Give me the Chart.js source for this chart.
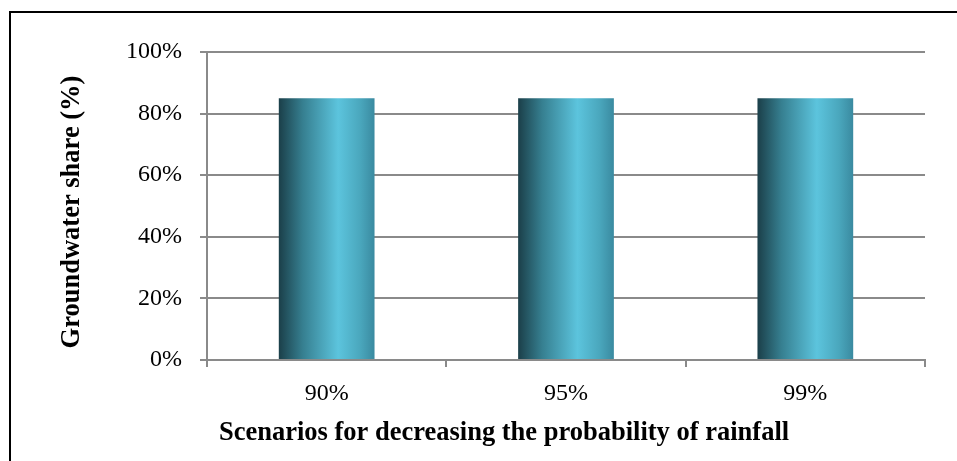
<!DOCTYPE html>
<html>
<head>
<meta charset="utf-8">
<script src="https://cdn.jsdelivr.net/npm/chart.js@4.4.1/dist/chart.umd.min.js"></script>
<style>
  html, body { margin: 0; padding: 0; background: #fff; }
  #wrap { position: relative; width: 957px; height: 461px; }
  #frame { position: absolute; left: 9px; top: 11px; right: -5px; bottom: -5px;
           border-left: 2px solid #000; border-top: 2px solid #000; }
  canvas { position: absolute; left: 0; top: 0; }
</style>
</head>
<body>
<div id="wrap">
  <div id="frame"></div>
  <canvas id="gwChart" width="957" height="461"></canvas>
</div>
<script>
// Escenarios y porcentaje de agua subterránea
const scenarios = ['90%', '95%', '99%'];
const groundwaterShare = [85, 85, 85];
const yTicks = [0, 20, 40, 60, 80, 100];

const xTitle = 'Scenarios for decreasing the probability of rainfall';
const yTitle = 'Groundwater share (%)';

const serif = "'Liberation Serif', 'Times New Roman', serif";
const gridGrey = '#8a8a8a';

// Degradado horizontal de cada barra (cada una con su propio objeto de opciones)
const barGradient = {
    id: 'barGradient',
    beforeDatasetsDraw(chart) {
        const ctx = chart.ctx;
        chart.getDatasetMeta(0).data.forEach(bar => {
            const x0 = bar.x - bar.width / 2;
            const x1 = bar.x + bar.width / 2;
            const g = ctx.createLinearGradient(x0, 0, x1, 0);
            g.addColorStop(0, '#1b3f49');
            g.addColorStop(0.25, '#367f90');
            g.addColorStop(0.62, '#5cc4dd');
            g.addColorStop(0.85, '#4aa7bd');
            g.addColorStop(1, '#3a8aa0');
            bar.options = Object.assign({}, bar.options, { backgroundColor: g });
        });
    }
};

// Títulos de los ejes
const axisTitles = {
    id: 'axisTitles',
    afterDraw(chart) {
        const ctx = chart.ctx;
        ctx.save();
        ctx.fillStyle = '#000';
        ctx.font = 'bold 26.5px ' + serif;
        ctx.textAlign = 'center';
        ctx.textBaseline = 'middle';
        ctx.fillText(xTitle, 504, 433);
        ctx.translate(72, 212);
        ctx.rotate(-Math.PI / 2);
        ctx.fillText(yTitle, 0, 0);
        ctx.restore();
    }
};

const gwChart = new Chart(document.getElementById('gwChart'), {
    type: 'bar',
    data: {
        labels: scenarios,
        datasets: [{
            data: groundwaterShare,
            backgroundColor: '#4aa7bd',
            borderWidth: 0,
            barPercentage: 0.4,
            categoryPercentage: 1
        }]
    },
    options: {
        responsive: false,
        animation: false,
        layout: {
            padding: { left: 0, top: 52, right: 32, bottom: 0 }
        },
        plugins: {
            legend: { display: false },
            tooltip: { enabled: false }
        },
        scales: {
            x: {
                grid: {
                    offset: true,
                    drawOnChartArea: false,
                    drawTicks: true,
                    tickLength: 7,
                    color: gridGrey,
                    lineWidth: 2
                },
                border: { color: gridGrey, width: 2 },
                ticks: {
                    color: '#000',
                    font: { family: serif, size: 24 },
                    padding: 12
                },
                afterFit: scale => { scale.height = 101; }
            },
            y: {
                min: 0,
                max: 100,
                afterBuildTicks: scale => {
                    scale.ticks = yTicks.map(v => ({ value: v }));
                },
                grid: {
                    color: gridGrey,
                    lineWidth: 2,
                    tickLength: 7
                },
                border: { color: gridGrey, width: 2 },
                ticks: {
                    color: '#000',
                    font: { family: serif, size: 24 },
                    padding: 18,
                    callback: v => v + '%'
                },
                afterFit: scale => { scale.width = 207; }
            }
        }
    },
    plugins: [barGradient, axisTitles]
});
</script>
</body>
</html>
